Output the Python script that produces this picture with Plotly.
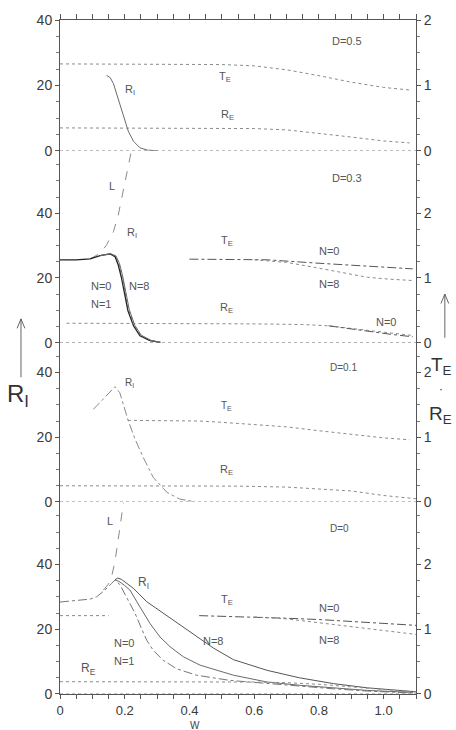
import plotly.graph_objects as go

# ---------------- data ----------------
X_TICKS = [0, 0.2, 0.4, 0.6, 0.8, 1.0]
X_TICK_TEXT = ["0", "0.2", "0.4", "0.6", "0.8", "1.0"]
LEFT_TICKS = [0, 20, 40]
RIGHT_TICKS = [0, 1, 2]
BASE_X = [0, 1.1]
BASE_Y = [0, 0]

# Panel D=0.5
P1_TE_X = [0, 0.1, 0.2, 0.3, 0.4, 0.5, 0.6, 0.7, 0.8, 0.9, 1.0, 1.08]
P1_TE_Y = [1.33, 1.33, 1.33, 1.33, 1.33, 1.32, 1.30, 1.24, 1.15, 1.05, 0.97, 0.93]
P1_RE_X = [0, 0.2, 0.4, 0.5, 0.6, 0.7, 0.8, 0.9, 1.0, 1.08]
P1_RE_Y = [0.35, 0.35, 0.35, 0.35, 0.34, 0.32, 0.27, 0.21, 0.15, 0.12]
P1_RI_X = [0.144, 0.155, 0.165, 0.18, 0.196, 0.211, 0.227, 0.247, 0.27, 0.3]
P1_RI_Y = [23.1, 22.4, 20.6, 16.0, 10.5, 6.0, 2.9, 0.9, 0.2, 0]

# Panel D=0.3
P2_RI_N0_X = [0, 0.05, 0.093, 0.124, 0.155, 0.17, 0.18, 0.19, 0.2, 0.21, 0.227, 0.247, 0.278, 0.31]
P2_RI_N0_Y = [25.6, 25.6, 25.9, 26.9, 27.4, 26.6, 24.0, 20.0, 14.9, 9.8, 5.2, 2.1, 0.6, 0.1]
P2_RI_N1_X = [0.124, 0.155, 0.171, 0.182, 0.192, 0.202, 0.212, 0.229, 0.249, 0.28, 0.31]
P2_RI_N1_Y = [26.9, 27.4, 26.7, 24.2, 20.2, 15.1, 10.0, 5.3, 2.2, 0.6, 0.1]
P2_RI_N8_X = [0.124, 0.156, 0.173, 0.184, 0.194, 0.204, 0.214, 0.231, 0.251, 0.282, 0.31]
P2_RI_N8_Y = [26.9, 27.5, 26.8, 24.4, 20.4, 15.3, 10.2, 5.4, 2.3, 0.7, 0.1]
P2_L_X = [0.093, 0.124, 0.144, 0.165, 0.18, 0.19, 0.2, 0.208, 0.22]
P2_L_Y = [25.9, 27.6, 30.2, 34.3, 39.4, 44.4, 49.5, 52.6, 59.0]
P2_TE_N0_X = [0.40, 0.5, 0.64, 0.79, 0.95, 1.09]
P2_TE_N0_Y = [1.29, 1.29, 1.28, 1.23, 1.18, 1.14]
P2_TE_N8_X = [0.6, 0.7, 0.79, 0.87, 0.95, 1.02, 1.09]
P2_TE_N8_Y = [1.28, 1.24, 1.16, 1.08, 1.01, 0.98, 0.96]
P2_RE_N0_X = [0.02, 0.2, 0.4, 0.6, 0.75, 0.83, 0.9, 0.95, 1.02, 1.09]
P2_RE_N0_Y = [0.30, 0.30, 0.30, 0.29, 0.28, 0.26, 0.22, 0.19, 0.15, 0.11]
P2_RE_N8_X = [0.83, 0.9, 0.95, 1.02, 1.09]
P2_RE_N8_Y = [0.26, 0.21, 0.17, 0.13, 0.09]

# Panel D=0.1
P3_RI_X = [0.103, 0.134, 0.17, 0.185, 0.198, 0.211, 0.232, 0.257, 0.288, 0.33, 0.37, 0.41]
P3_RI_Y = [28.6, 31.7, 35.6, 33.7, 29.1, 25.0, 19.4, 13.8, 7.6, 3.0, 0.9, 0.2]
P3_TE_X = [0.21, 0.3, 0.43, 0.5, 0.6, 0.7, 0.8, 0.9, 1.0, 1.08]
P3_TE_Y = [1.26, 1.26, 1.25, 1.23, 1.20, 1.16, 1.10, 1.04, 0.99, 0.96]
P3_RE_X = [0, 0.2, 0.4, 0.55, 0.7, 0.8, 0.9, 1.0, 1.1]
P3_RE_Y = [0.25, 0.25, 0.25, 0.245, 0.23, 0.2, 0.17, 0.1, 0.05]

# Panel D=0
P4_RI_N0_X = [0, 0.06, 0.093, 0.113, 0.139, 0.16, 0.17, 0.185, 0.206, 0.232, 0.252, 0.268,
              0.288, 0.319, 0.36, 0.422, 0.525, 0.628, 0.74, 0.845, 0.95, 1.09]
P4_RI_N0_Y = [28.4, 29.0, 29.3, 30.0, 32.1, 34.2, 35.2, 33.8, 30.0, 24.9, 20.2, 16.6,
              13.5, 10.4, 7.8, 5.8, 4.2, 3.3, 2.4, 1.6, 0.9, 0.3]
P4_RI_N1_X = [0.17, 0.185, 0.2, 0.216, 0.247, 0.278, 0.309, 0.34, 0.381, 0.433, 0.536,
              0.64, 0.74, 0.845, 0.95, 1.09]
P4_RI_N1_Y = [35.3, 34.6, 33.5, 32.1, 26.9, 21.8, 17.6, 14.6, 11.5, 8.9, 5.8, 3.7, 2.7,
              1.9, 1.1, 0.5]
P4_RI_N8_X = [0.17, 0.178, 0.19, 0.205, 0.227, 0.268, 0.319, 0.371, 0.422, 0.474, 0.536,
              0.64, 0.74, 0.845, 0.95, 1.07, 1.1]
P4_RI_N8_Y = [35.3, 35.8, 35.4, 34.3, 32.6, 28.5, 24.9, 21.4, 17.6, 14.2, 10.6, 7.3, 5.0,
              3.2, 1.9, 0.9, 0.7]
P4_L_X = [0.134, 0.15, 0.16, 0.168, 0.176, 0.185, 0.196]
P4_L_Y = [32.1, 34.0, 36.5, 40.0, 45.0, 51.0, 59.0]
P4_TE_LEFT_X = [0, 0.15]
P4_TE_LEFT_Y = [1.21, 1.21]
P4_TE_N0_X = [0.43, 0.6, 0.7, 0.8, 0.9, 1.0, 1.1]
P4_TE_N0_Y = [1.21, 1.19, 1.17, 1.15, 1.12, 1.09, 1.06]
P4_TE_N8_X = [0.6, 0.7, 0.8, 0.9, 1.0, 1.1]
P4_TE_N8_Y = [1.19, 1.16, 1.10, 1.04, 0.98, 0.92]
P4_RE_X = [0, 0.2, 0.4, 0.6, 0.7, 0.8, 0.9, 1.0, 1.1]
P4_RE_Y = [0.19, 0.19, 0.19, 0.185, 0.175, 0.15, 0.11, 0.07, 0.03]

# ---------------- styling ----------------
FONT = "Liberation Sans"
TXT = "#3a3a3a"
DOT = dict(color="#8a8a8a", width=1, dash="dot")
DASH = dict(color="#8a8a8a", width=1, dash="dash")
SOLID = dict(color="#6a6a6a", width=1)
DARK = dict(color="#222222", width=1.3)

fig = go.Figure()

def add(x, y, yax, line):
    fig.add_trace(go.Scatter(x=x, y=y, mode="lines", line=line, xaxis="x", yaxis=yax,
                             hoverinfo="skip", showlegend=False))

# panel axes: (left yaxis, right yaxis)
P4 = ("y", "y2"); P3 = ("y3", "y4"); P2 = ("y5", "y6"); P1 = ("y7", "y8")

# baselines
for p in (P1, P2, P3, P4):
    add(BASE_X, BASE_Y, p[0], DOT)

# Panel 1
add(P1_TE_X, P1_TE_Y, P1[1], DOT)
add(P1_RE_X, P1_RE_Y, P1[1], DOT)
add(P1_RI_X, P1_RI_Y, P1[0], SOLID)

# Panel 2
add(P2_L_X, P2_L_Y, P2[0], DASH)
add(P2_RI_N0_X, P2_RI_N0_Y, P2[0], DARK)
add(P2_RI_N1_X, P2_RI_N1_Y, P2[0], dict(color="#555555", width=1, dash="dot"))
add(P2_RI_N8_X, P2_RI_N8_Y, P2[0], SOLID)
add(P2_TE_N0_X, P2_TE_N0_Y, P2[1], dict(color="#555555", width=1, dash="dashdot"))
add(P2_TE_N8_X, P2_TE_N8_Y, P2[1], DOT)
add(P2_RE_N0_X, P2_RE_N0_Y, P2[1], DOT)
add(P2_RE_N8_X, P2_RE_N8_Y, P2[1], dict(color="#555555", width=1, dash="dashdot"))

# Panel 3
add(P3_RI_X, P3_RI_Y, P3[0], dict(color="#8a8a8a", width=1, dash="dashdot"))
add(P3_TE_X, P3_TE_Y, P3[1], DOT)
add(P3_RE_X, P3_RE_Y, P3[1], DOT)

# Panel 4
add(P4_L_X, P4_L_Y, P4[0], DASH)
add(P4_RI_N0_X, P4_RI_N0_Y, P4[0], dict(color="#777777", width=1, dash="dashdot"))
add(P4_RI_N1_X, P4_RI_N1_Y, P4[0], SOLID)
add(P4_RI_N8_X, P4_RI_N8_Y, P4[0], dict(color="#555555", width=1))
add(P4_TE_LEFT_X, P4_TE_LEFT_Y, P4[1], DOT)
add(P4_TE_N0_X, P4_TE_N0_Y, P4[1], dict(color="#555555", width=1, dash="dashdot"))
add(P4_TE_N8_X, P4_TE_N8_Y, P4[1], DOT)
add(P4_RE_X, P4_RE_Y, P4[1], DOT)

# invisible trace to materialise the top tick axis
fig.add_trace(go.Scatter(x=BASE_X, y=BASE_Y, mode="lines", line=dict(width=0), opacity=0,
                         xaxis="x2", yaxis="y7", hoverinfo="skip", showlegend=False))

# ---------------- axes ----------------
domains = {"P4": [0, 0.2849], "P3": [0.2849, 0.5213], "P2": [0.5213, 0.806], "P1": [0.806, 1.0]}
ranges = {"P4": 59.3, "P3": 49.2, "P2": 59.3, "P1": 40.05}

axcommon = dict(showgrid=False, zeroline=False, showline=True, linecolor="#555", linewidth=1,
                ticks="outside", ticklen=4, tickcolor="#555",
                tickfont=dict(family=FONT, size=14, color=TXT))

layout_axes = {}
for key, (ly, ry) in (("P4", P4), ("P3", P3), ("P2", P2), ("P1", P1)):
    lname = "yaxis" if ly == "y" else "yaxis" + ly[1:]
    rname = "yaxis" + ry[1:]
    top = ranges[key]
    layout_axes[lname] = dict(axcommon, domain=domains[key], range=[0, top], anchor="x",
                              tickvals=LEFT_TICKS,
                              minor=dict(dtick=5, tick0=0, ticks="outside", ticklen=3,
                                         tickcolor="#777"))
    layout_axes[rname] = dict(axcommon, overlaying=ly, side="right", anchor="x",
                              range=[0, top / 20], tickvals=RIGHT_TICKS,
                              minor=dict(dtick=0.25, tick0=0, ticks="outside", ticklen=3,
                                         tickcolor="#777"))

fig.update_layout(
    width=456, height=730,
    margin=dict(l=60, r=40, t=16, b=33),
    paper_bgcolor="white", plot_bgcolor="white",
    font=dict(family=FONT, color=TXT),
    showlegend=False,
    xaxis=dict(axcommon, domain=[0, 1], range=[0, 1.1], anchor="y",
               tickvals=X_TICKS, ticktext=X_TICK_TEXT,
               tickfont=dict(family=FONT, size=13, color=TXT),
               minor=dict(dtick=0.05, tick0=0, ticks="outside", ticklen=4, tickcolor="#555")),
    xaxis2=dict(axcommon, overlaying="x", side="top", anchor="y7", range=[0, 1.1],
                dtick=0.05, tick0=0, showticklabels=False, ticklen=5),
    **layout_axes,
)

# ---------------- text labels ----------------
def lab(text, x, y, yref, size=11):
    fig.add_annotation(text=text, x=x, y=y, xref="x", yref=yref, showarrow=False,
                       font=dict(family=FONT, size=size, color="#555"))

lab("D=0.5", 0.887, 33.6, "y7")
lab("T<sub>E</sub>", 0.51, 22.7, "y7")
lab("R<sub>I</sub>", 0.215, 18.5, "y7")
lab("R<sub>E</sub>", 0.516, 11, "y7")

lab("D=0.3", 0.887, 50.8, "y5")
lab("L", 0.16, 48.5, "y5")
lab("R<sub>I</sub>", 0.222, 34, "y5")
lab("T<sub>E</sub>", 0.515, 31.5, "y5")
lab("N=0", 0.834, 28.4, "y5")
lab("N=8", 0.834, 18, "y5")
lab("N=0", 0.129, 17.4, "y5")
lab("N=8", 0.245, 17.4, "y5")
lab("N=1", 0.129, 12, "y5")
lab("R<sub>E</sub>", 0.515, 10.7, "y5")
lab("N=0", 1.01, 6.3, "y5")

lab("D=0.1", 0.875, 41.5, "y3", size=10)
lab("R<sub>I</sub>", 0.216, 36.8, "y3", size=10)
lab("T<sub>E</sub>", 0.515, 29.5, "y3", size=10)
lab("R<sub>E</sub>", 0.515, 10, "y3")

lab("D=0", 0.865, 51, "y", size=10)
lab("L", 0.153, 53.5, "y")
lab("R<sub>I</sub>", 0.258, 34.2, "y", size=12)
lab("T<sub>E</sub>", 0.515, 29, "y")
lab("N=0", 0.834, 26.6, "y")
lab("N=8", 0.834, 16.7, "y")
lab("N=8", 0.473, 16.4, "y")
lab("N=0", 0.2, 15.8, "y")
lab("N=1", 0.2, 10.2, "y")
lab("R<sub>E</sub>", 0.087, 7.6, "y", size=12)

# axis titles (outside the frame): arrows as paper-referenced shapes
ARROW = dict(color="#555", width=0.9)
def up_arrow(xp, y_head, y_tail):
    fig.add_shape(type="line", xref="paper", yref="paper", x0=xp, x1=xp,
                  y0=y_tail, y1=y_head, line=ARROW)
    fig.add_shape(type="line", xref="paper", yref="paper", x0=xp - 0.011, x1=xp,
                  y0=y_head - 0.014, y1=y_head, line=ARROW)
    fig.add_shape(type="line", xref="paper", yref="paper", x0=xp + 0.011, x1=xp,
                  y0=y_head - 0.014, y1=y_head, line=ARROW)

up_arrow(-0.1096, 0.5565, 0.4699)
up_arrow(1.081, 0.5933, 0.5286)

fig.add_annotation(text="R<sub>I</sub>", x=-0.118, y=0.4435, xref="paper", yref="paper",
                   xanchor="center", showarrow=False,
                   font=dict(family=FONT, size=24, color="#333"))
fig.add_annotation(text="T<sub>E</sub>", x=1.107, y=0.487, xref="paper", yref="paper",
                   xanchor="right", showarrow=False,
                   font=dict(family=FONT, size=19, color="#333"))
fig.add_annotation(text="·", x=1.081, y=0.452, xref="paper", yref="paper",
                   showarrow=False, font=dict(family=FONT, size=12, color="#333"))
fig.add_annotation(text="R<sub>E</sub>", x=1.107, y=0.414, xref="paper", yref="paper",
                   xanchor="right", showarrow=False,
                   font=dict(family=FONT, size=19, color="#333"))
fig.add_annotation(text="W", x=0.379, y=-0.035, xref="paper", yref="paper",
                   yanchor="top", showarrow=False,
                   font=dict(family=FONT, size=10, color="#444"))

fig.write_html(
    "out.html",
    config={"displayModeBar": False},
    post_script="document.body.style.margin='0';document.body.style.overflow='hidden';",
)
